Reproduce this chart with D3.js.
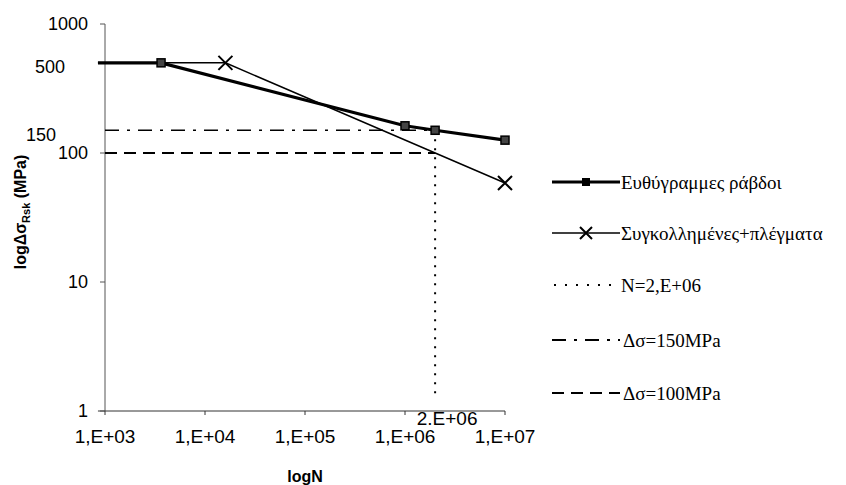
<!DOCTYPE html>
<html>
<head>
<meta charset="utf-8">
<script src="https://cdn.jsdelivr.net/npm/d3@7/dist/d3.min.js"></script>
<style>
  body { margin: 0; background: #fff; }
</style>
</head>
<body>
<script>
var width = 846, height = 485;

// data (N cycles, stress range MPa)
var straightN = [850, 3636, 1e6, 2e6, 1e7];
var straightS = [500, 500, 162.5, 150, 125.8];
var weldedN = [850, 16000, 1e7];
var weldedS = [500, 500, 58.5];
var refN = 2e6;
var refS150 = 150;
var refS100 = 100;

var xTicks = [1e3, 1e4, 1e5, 1e6, 1e7];
var xTickLabels = ["1,E+03", "1,E+04", "1,E+05", "1,E+06", "1,E+07"];
var yTicks = [1, 10, 100, 1000];
var legendLabels = ["Ευθύγραμμες ράβδοι", "Συγκολλημένες+πλέγματα", "N=2,E+06", "Δσ=150MPa", "Δσ=100MPa"];

var svg = d3.select("body").append("svg")
    .attr("width", width)
    .attr("height", height);

var scale_x = d3.scaleLog().domain([1e3, 1e7]).range([105, 505]);
var scale_y = d3.scaleLog().domain([1, 1000]).range([411, 24]);

var sans = "'Liberation Sans', Arial, sans-serif";
var serif = "'Liberation Serif', 'Times New Roman', serif";

var axis_g = svg.append("g"),
    ref_g = svg.append("g"),
    series_g = svg.append("g"),
    legend_g = svg.append("g");

/*
* Axes
*/
axis_g.append("line")
  .attr("x1", scale_x(1e3)).attr("x2", scale_x(1e3))
  .attr("y1", scale_y(1000)).attr("y2", scale_y(1))
  .attr("stroke", "#555").attr("stroke-width", 1);

axis_g.append("line")
  .attr("x1", scale_x(850)).attr("x2", scale_x(1e7))
  .attr("y1", scale_y(1)).attr("y2", scale_y(1))
  .attr("stroke", "#333").attr("stroke-width", 1);

axis_g.selectAll(".ytick")
  .data(yTicks)
  .enter().append("line")
  .attr("class", "ytick")
  .attr("x1", scale_x(1e3) - 5).attr("x2", scale_x(1e3))
  .attr("y1", function(d) { return scale_y(d); })
  .attr("y2", function(d) { return scale_y(d); })
  .attr("stroke", "#555");

axis_g.selectAll(".ylab")
  .data(yTicks)
  .enter().append("text")
  .attr("class", "ylab")
  .attr("x", 88)
  .attr("y", function(d) { return scale_y(d); })
  .attr("dy", "0.36em")
  .attr("text-anchor", "end")
  .attr("font-family", sans)
  .attr("font-size", 18)
  .text(function(d) { return d; });

// extra labels for 500 and 150
axis_g.append("text")
  .attr("x", 65).attr("y", scale_y(500) + 4).attr("dy", "0.36em")
  .attr("text-anchor", "end")
  .attr("font-family", sans)
  .attr("font-size", 18)
  .text("500");
axis_g.append("text")
  .attr("x", 56).attr("y", scale_y(150) + 4).attr("dy", "0.36em")
  .attr("text-anchor", "end")
  .attr("font-family", sans)
  .attr("font-size", 18)
  .text("150");

axis_g.selectAll(".xtick")
  .data(xTicks)
  .enter().append("line")
  .attr("class", "xtick")
  .attr("x1", function(d) { return scale_x(d); })
  .attr("x2", function(d) { return scale_x(d); })
  .attr("y1", scale_y(1)).attr("y2", scale_y(1) + 4)
  .attr("stroke", "#333");

axis_g.selectAll(".xlab")
  .data(xTicks)
  .enter().append("text")
  .attr("class", "xlab")
  .attr("x", function(d) { return scale_x(d); })
  .attr("y", 436)
  .attr("dy", "0.36em")
  .attr("text-anchor", "middle")
  .attr("font-family", sans)
  .attr("font-size", 19)
  .text(function(d, i) { return xTickLabels[i]; });

axis_g.append("text")
  .attr("x", scale_x(refN) + 12)
  .attr("y", 418)
  .attr("dy", "0.36em")
  .attr("text-anchor", "middle")
  .attr("font-family", sans)
  .attr("font-size", 19)
  .text("2.E+06");

axis_g.append("text")
  .attr("x", scale_x(1e5))
  .attr("y", 476)
  .attr("dy", "0.36em")
  .attr("text-anchor", "middle")
  .attr("font-family", sans)
  .attr("font-weight", "bold")
  .attr("font-size", 16)
  .text("logN");

var ytitle = axis_g.append("text")
  .attr("transform", "translate(26,212) rotate(-90)")
  .attr("text-anchor", "middle")
  .attr("font-family", sans)
  .attr("font-weight", "bold")
  .attr("font-size", 16);
ytitle.append("tspan").text("logΔσ");
ytitle.append("tspan").attr("font-size", 11).attr("dy", 4).text("Rsk");
ytitle.append("tspan").attr("dy", -4).text(" (MPa)");

/*
* Reference lines
*/
ref_g.append("line")
  .attr("x1", scale_x(refN)).attr("x2", scale_x(refN))
  .attr("y1", scale_y(refS150)).attr("y2", scale_y(1.25))
  .attr("stroke", "#000").attr("stroke-width", 2)
  .attr("stroke-dasharray", "2,7");

ref_g.append("line")
  .attr("x1", scale_x(1e3)).attr("x2", scale_x(refN))
  .attr("y1", scale_y(refS150)).attr("y2", scale_y(refS150))
  .attr("stroke", "#000").attr("stroke-width", 1.6)
  .attr("stroke-dasharray", "14,8,3,8");

ref_g.append("line")
  .attr("x1", scale_x(1e3)).attr("x2", scale_x(refN))
  .attr("y1", scale_y(refS100)).attr("y2", scale_y(refS100))
  .attr("stroke", "#000").attr("stroke-width", 1.8)
  .attr("stroke-dasharray", "12,7");

/*
* Series
*/
var line_function = d3.line()
  .x(function(d) { return scale_x(d[0]); })
  .y(function(d) { return scale_y(d[1]); });

var straight = d3.zip(straightN, straightS);
var welded = d3.zip(weldedN, weldedS);

series_g.append("path")
  .attr("d", line_function(welded))
  .attr("fill", "none").attr("stroke", "#000").attr("stroke-width", 1.5);

series_g.append("path")
  .attr("d", line_function(straight))
  .attr("fill", "none").attr("stroke", "#000").attr("stroke-width", 3.2);

function cross(g, x, y, r) {
  g.append("path")
    .attr("d", "M" + (x - r) + "," + (y - r) + "L" + (x + r) + "," + (y + r) +
               "M" + (x - r) + "," + (y + r) + "L" + (x + r) + "," + (y - r))
    .attr("stroke", "#000").attr("stroke-width", 2).attr("fill", "none");
}

series_g.selectAll(".sq")
  .data(straight.slice(1))
  .enter().append("rect")
  .attr("class", "sq")
  .attr("x", function(d) { return scale_x(d[0]) - 4; })
  .attr("y", function(d) { return scale_y(d[1]) - 4; })
  .attr("width", 8).attr("height", 8)
  .attr("fill", "#444").attr("stroke", "#000").attr("stroke-width", 1.5);

welded.slice(1).forEach(function(d) {
  cross(series_g, scale_x(d[0]), scale_y(d[1]), 7);
});

/*
* Legend
*/
var legendY = [182, 233, 285, 340, 393];
var lx0 = 552, lx1 = 620;

legend_g.append("line")
  .attr("x1", lx0).attr("x2", lx1).attr("y1", legendY[0]).attr("y2", legendY[0])
  .attr("stroke", "#000").attr("stroke-width", 3.2);
legend_g.append("rect")
  .attr("x", 582).attr("y", legendY[0] - 4).attr("width", 8).attr("height", 8)
  .attr("fill", "#000");

legend_g.append("line")
  .attr("x1", lx0).attr("x2", lx1).attr("y1", legendY[1]).attr("y2", legendY[1])
  .attr("stroke", "#000").attr("stroke-width", 1.5);
cross(legend_g, 586, legendY[1], 6);

legend_g.append("line")
  .attr("x1", lx0 + 2).attr("x2", lx1).attr("y1", legendY[2]).attr("y2", legendY[2])
  .attr("stroke", "#000").attr("stroke-width", 2).attr("stroke-dasharray", "2,9");

legend_g.append("line")
  .attr("x1", lx0).attr("x2", lx1).attr("y1", legendY[3]).attr("y2", legendY[3])
  .attr("stroke", "#000").attr("stroke-width", 2).attr("stroke-dasharray", "14,8,3,8");

legend_g.append("line")
  .attr("x1", lx0).attr("x2", lx1).attr("y1", legendY[4]).attr("y2", legendY[4])
  .attr("stroke", "#000").attr("stroke-width", 2.2).attr("stroke-dasharray", "12,7");

legend_g.selectAll("text")
  .data(legendLabels)
  .enter().append("text")
  .attr("x", function(d, i) { return i < 3 ? 621 : 623; })
  .attr("y", function(d, i) { return legendY[i]; })
  .attr("dy", "0.35em")
  .attr("font-family", serif)
  .attr("font-size", 19)
  .text(function(d) { return d; });
</script>
</body>
</html>
